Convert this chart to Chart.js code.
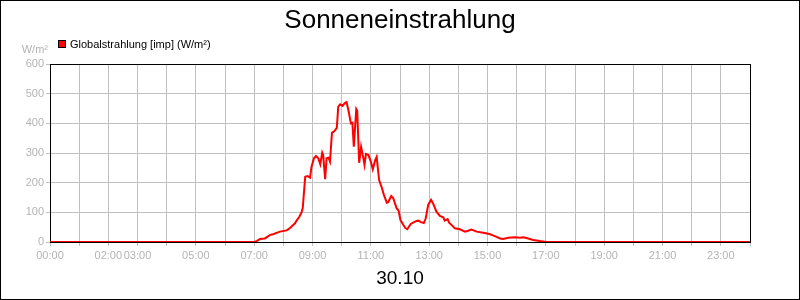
<!DOCTYPE html>
<html>
<head>
<meta charset="utf-8">
<script src="https://cdn.jsdelivr.net/npm/chart.js@4.4.0/dist/chart.umd.min.js"></script>
<style>
    html, body { margin: 0; padding: 0; background: #fff; }
    #wrap { position: relative; width: 800px; height: 300px; }
</style>
</head>
<body>
<div id="wrap"><canvas id="sunChart"></canvas></div>
<script>
// Texts
const chartTitle = 'Sonneneinstrahlung';
const dayLabel = '30.10';
const seriesLabel = 'Globalstrahlung [imp] (W/m²)';
const unitLabel = 'W/m²';

// Axis labels (one per hour line, 0..24)
const hourLabels = ['00:00', '', '02:00', '03:00', '', '05:00', '', '07:00', '', '09:00', '', '11:00', '',
    '13:00', '', '15:00', '', '17:00', '', '19:00', '', '21:00', '', '23:00', ''];
const yMin = 0;
const yMax = 600;
const yStep = 100;

// Series
const times = ['00:00', '07:00', '07:05', '07:12', '07:22', '07:33', '07:39', '07:53', '08:07', '08:12',
    '08:17', '08:24', '08:28', '08:33', '08:38', '08:40', '08:45', '08:50', '08:55', '08:58',
    '09:03', '09:07', '09:12', '09:16', '09:20', '09:22', '09:26', '09:29', '09:33', '09:36',
    '09:40', '09:45', '09:50', '09:53', '09:57', '10:02', '10:06', '10:10', '10:14', '10:19',
    '10:22', '10:25', '10:30', '10:32', '10:36', '10:40', '10:44', '10:47', '10:50', '10:55',
    '11:00', '11:04', '11:09', '11:12', '11:17', '11:22', '11:27', '11:33', '11:36', '11:42',
    '11:46', '11:53', '11:57', '12:01', '12:07', '12:11', '12:15', '12:22', '12:27', '12:34',
    '12:38', '12:43', '12:49', '12:53', '12:58', '13:04', '13:08', '13:15', '13:22', '13:29',
    '13:32', '13:38', '13:41', '13:47', '13:53', '14:03', '14:14', '14:20', '14:27', '14:38',
    '14:51', '15:04', '15:15', '15:26', '15:32', '15:43', '15:57', '16:07', '16:14', '16:24',
    '16:34', '16:48', '16:58', '17:04', '24:00'];
const values = [0, 0, 3, 10, 12, 24, 26, 35, 39, 45,
    52, 63, 74, 85, 102, 116, 220, 222, 217, 254,
    282, 290, 282, 262, 301, 293, 212, 282, 284, 271,
    368, 374, 385, 456, 464, 459, 468, 472, 443, 400,
    402, 321, 448, 442, 267, 321, 288, 260, 297, 293,
    271, 245, 276, 287, 209, 186, 158, 132, 135, 155,
    148, 114, 106, 74, 57, 47, 43, 61, 65, 71,
    72, 67, 64, 80, 125, 142, 130, 102, 88, 83,
    72, 77, 65, 56, 46, 43, 35, 38, 42, 35,
    31, 27, 20, 12, 10, 14, 16, 14, 16, 12,
    7, 3, 1, 0, 0];

const lineColor = '#ff0000';
const gridColor = '#c0c0c0';
const tickColor = '#b4b4b4';
const fontFamily = '"Liberation Sans", Arial, sans-serif';

function toHours(t) {
    const parts = t.split(':');
    return parseInt(parts[0]) + parseInt(parts[1]) / 60;
}

// Frame, header, legend and date
const framePlugin = {
    id: 'frame',
    beforeDatasetsDraw(chart) {
        const { ctx, chartArea: a } = chart;
        ctx.save();
        ctx.strokeStyle = '#000';
        ctx.lineWidth = 1;
        ctx.strokeRect(a.left + 0.5, a.top + 0.5, a.right - a.left, a.bottom - a.top);
        ctx.restore();
    },
    afterDraw(chart) {
        const { ctx, chartArea: a } = chart;
        const cx = (a.left + a.right) / 2;
        ctx.save();
        ctx.strokeStyle = '#000';
        ctx.lineWidth = 1;
        ctx.strokeRect(0.5, 0.5, chart.width - 1, chart.height - 1);

        ctx.fillStyle = '#000';
        ctx.textBaseline = 'alphabetic';
        ctx.textAlign = 'center';
        ctx.font = '26px ' + fontFamily;
        ctx.fillText(chartTitle, chart.width / 2, 28);
        ctx.font = '19px ' + fontFamily;
        ctx.fillText(dayLabel, cx, 284);

        // legend
        ctx.fillStyle = lineColor;
        ctx.fillRect(58, 40, 8, 8);
        ctx.strokeRect(58.5, 40.5, 7, 7);
        ctx.fillStyle = '#000';
        ctx.textAlign = 'left';
        ctx.font = '11px ' + fontFamily;
        ctx.fillText(seriesLabel, 70, 48);

        // unit
        ctx.fillStyle = tickColor;
        ctx.textAlign = 'right';
        ctx.fillText(unitLabel, 48, 53);
        ctx.restore();
    }
};

Chart.defaults.font.family = fontFamily;

const ctx = document.getElementById('sunChart').getContext('2d');
const sunChart = new Chart(ctx, {
    type: 'line',
    data: {
        datasets: [{
            label: seriesLabel,
            data: times.map((t, i) => ({ x: toHours(t), y: values[i] })),
            borderColor: lineColor,
            backgroundColor: lineColor,
            borderWidth: 2,
            pointRadius: 0,
            tension: 0,
            fill: false
        }]
    },
    options: {
        responsive: true,
        maintainAspectRatio: false,
        animation: false,
        layout: { padding: { top: 64, right: 50, left: 0, bottom: 0 } },
        plugins: {
            legend: { display: false },
            title: { display: false },
            tooltip: { enabled: false }
        },
        scales: {
            x: {
                type: 'linear',
                min: 0,
                max: hourLabels.length - 1,
                afterFit: axis => { axis.height = 58; },
                afterBuildTicks: axis => { axis.ticks = hourLabels.map((_, i) => ({ value: i })); },
                ticks: {
                    autoSkip: false,
                    maxRotation: 0,
                    padding: 3,
                    color: tickColor,
                    font: { size: 11 },
                    callback: (value, index) => hourLabels[index]
                },
                grid: { color: gridColor, tickColor: gridColor, tickLength: 4 },
                border: { display: false }
            },
            y: {
                min: yMin,
                max: yMax,
                afterFit: axis => { axis.width = 50; },
                ticks: {
                    stepSize: yStep,
                    padding: 2,
                    color: tickColor,
                    font: { size: 11 }
                },
                grid: { color: gridColor, tickColor: gridColor, tickLength: 4 },
                border: { display: false }
            }
        }
    },
    plugins: [framePlugin]
});
</script>
</body>
</html>
